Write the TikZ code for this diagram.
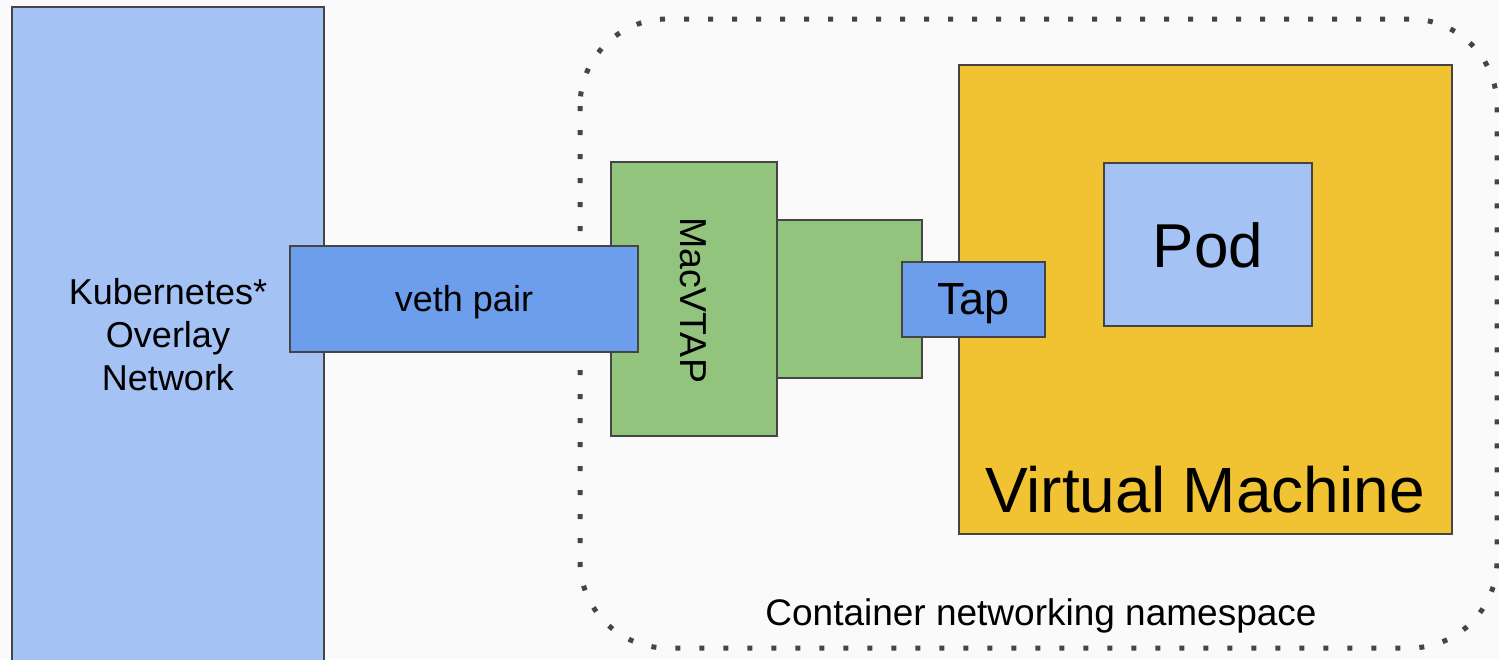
\documentclass[tikz,border=0pt]{standalone}
\usepackage{fontspec}
\setmainfont{Liberation Sans}
\definecolor{bgc}{HTML}{FAFAFA}
\definecolor{lblue}{HTML}{A4C2F4}
\definecolor{mblue}{HTML}{6D9EEB}
\definecolor{lgreen}{HTML}{93C47D}
\definecolor{gold}{HTML}{F1C232}
\definecolor{edge}{HTML}{454545}
\tikzset{
  box/.style={draw=edge, line width=2pt, inner sep=0pt, outer sep=0pt, rectangle},
  lbl/.style={inner sep=0pt, text=black},
  dotborder/.style={draw=edge, line width=5pt, dash pattern=on 5pt off 19pt, line cap=butt}
}
\newcommand{\fs}[2]{\fontsize{#1}{#2}\selectfont}
\begin{document}
\begin{tikzpicture}[x=1pt,y=-1pt]
\useasboundingbox (0,0) rectangle (1499,659);
\fill[bgc] (0,0) rectangle (1499,659);
\clip (0,0) rectangle (1499,659);
% Kubernetes overlay network
\node[box, fill=lblue, minimum width=312pt, minimum height=656pt, align=center, font=\fs{36}{43}]
  (k8s) at (168,335) {Kubernetes*\\Overlay\\Network};
% container namespace (dotted)
\coordinate (nsA) at (580,19);
\coordinate (nsB) at (1497,648);
\draw[dotborder, rounded corners=87pt] (nsA) rectangle (nsB);
\node[lbl, anchor=base, font=\fs{37}{43}] (nslbl) at (1041,625) {Container networking namespace};
% green boxes
\node[box, fill=lgreen, minimum width=145pt, minimum height=158pt] (green2) at (849.5,299) {};
\node[box, fill=lgreen, minimum width=166pt, minimum height=274pt] (macvtap) at (694,299) {};
\node[lbl, rotate=-90, font=\fs{37.5}{43}] (macvtaplbl) at (693,300) {MacVTAP};
% veth pair
\node[box, fill=mblue, minimum width=348pt, minimum height=106pt] (veth) at (464,299) {};
\node[lbl, font=\fs{36}{43}] (vethlbl) at (464,302) {veth pair};
% Virtual machine
\node[box, fill=gold, minimum width=493pt, minimum height=469pt] (vm) at (1205.5,299.5) {};
\node[lbl, anchor=base, font=\fs{64}{70}] (vmlbl) at (1205,512) {Virtual Machine};
% Pod
\node[box, fill=lblue, minimum width=208pt, minimum height=163pt] (pod) at (1208,244.5) {};
\node[lbl, font=\fs{62}{70}] (podlbl) at (1208,245) {Pod};
% Tap
\node[box, fill=mblue, minimum width=143pt, minimum height=75pt] (tap) at (973.5,299.5) {};
\node[lbl, font=\fs{45}{50}] (taplbl) at (973.5,303.5) {Tap};
\end{tikzpicture}
\end{document}
